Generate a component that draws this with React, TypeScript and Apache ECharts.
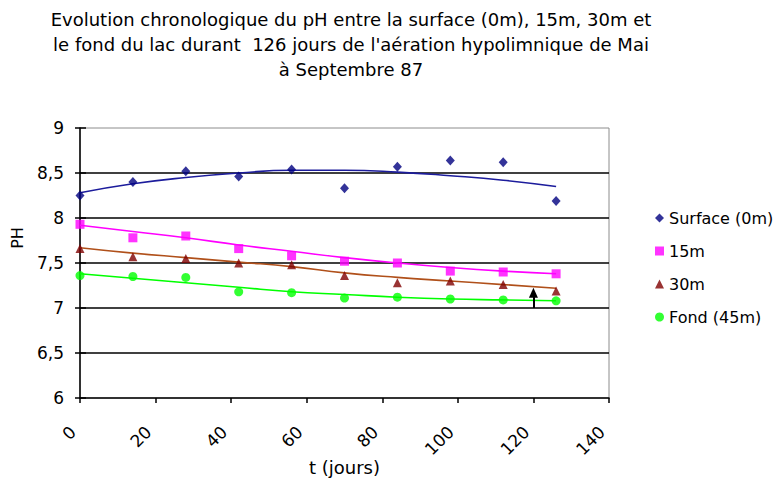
import React, { useEffect, useRef } from "react";
import * as echarts from "echarts";

const days = [0, 14, 28, 42, 56, 70, 84, 98, 112, 126];
const surface = [8.25, 8.4, 8.52, 8.46, 8.54, 8.33, 8.57, 8.64, 8.62, 8.19];
const m15 = [7.93, 7.78, 7.8, 7.66, 7.58, 7.52, 7.5, 7.41, 7.4, 7.38];
const m30 = [7.66, 7.57, 7.55, 7.5, 7.48, 7.36, 7.28, 7.3, 7.26, 7.19];
const fond = [7.36, 7.35, 7.34, 7.18, 7.17, 7.11, 7.12, 7.1, 7.09, 7.08];

// trendlines
const trendSurface = [8.28, 8.38, 8.45, 8.5, 8.53, 8.53, 8.51, 8.47, 8.42, 8.35];
const trend15 = [7.92, 7.85, 7.78, 7.7, 7.63, 7.56, 7.5, 7.45, 7.41, 7.38];
const trend30 = [7.67, 7.61, 7.56, 7.51, 7.46, 7.39, 7.34, 7.3, 7.26, 7.22];
const trendFond = [7.38, 7.33, 7.28, 7.23, 7.18, 7.15, 7.12, 7.1, 7.09, 7.08];

const arrowDay = 120;
const arrowFrom = 7.0;
const arrowTo = 7.17;

const seriesNames = ["Surface (0m)", "15m", "30m", "Fond (45m)"];
const titleLines = [
  "Evolution chronologique du pH entre la surface (0m), 15m, 30m et",
  "le fond du lac durant  126 jours de l'aération hypolimnique de Mai",
  "à Septembre 87",
];
const yName = "PH";
const xName = "t (jours)";

const FONT = "'DejaVu Sans', Verdana, sans-serif";

const pairs = (xs: number[], ys: number[]) => xs.map((x, i) => [x, ys[i]]);

export default function App() {
  const ref = useRef<HTMLDivElement>(null);
  useEffect(() => {
    if (!ref.current) return;
    const chart = echarts.init(ref.current, null, { renderer: "svg" });
    const trendStyle = (color: string) => ({
      type: "line",
      smooth: true,
      showSymbol: false,
      symbol: "none",
      silent: true,
      lineStyle: { color, width: 1.6 },
      z: 2,
    });
    chart.setOption({
      animation: false,
      backgroundColor: "#ffffff",
      textStyle: { fontFamily: FONT, color: "#000" },
      graphic: [
        {
          type: "text",
          x: 351,
          y: 7,
          style: {
            text: titleLines.join("\n"),
            align: "center",
            verticalAlign: "top",
            font: `18px ${FONT}`,
            lineHeight: 25,
            fill: "#000",
          },
        },
        {
          type: "text",
          x: 17,
          y: 238,
          rotation: Math.PI / 2,
          style: {
            text: yName,
            align: "center",
            verticalAlign: "middle",
            font: `16px ${FONT}`,
            fill: "#000",
          },
        },
      ],
      grid: {
        left: 80,
        top: 128,
        right: 171,
        bottom: 90,
        show: true,
        borderColor: "#8c8c8c",
        borderWidth: 1,
        outerBoundsMode: "none",
        containLabel: false,
      },
      legend: {
        orient: "vertical",
        left: 650,
        top: 205,
        itemWidth: 9,
        itemHeight: 9,
        itemGap: 17,
        data: seriesNames,
        textStyle: { fontFamily: FONT, fontSize: 16, color: "#000" },
      },
      xAxis: {
        type: "value",
        min: 0,
        max: 140,
        interval: 20,
        name: xName,
        nameLocation: "middle",
        nameGap: 60,
        nameMoveOverlap: false,
        nameTextStyle: { fontFamily: FONT, fontSize: 18, color: "#000" },
        axisLine: { show: true, lineStyle: { color: "#000", width: 1.5 } },
        axisTick: { show: true, length: 5, lineStyle: { color: "#000", width: 1.5 } },
        axisLabel: {
          rotate: 45,
          margin: 24,
          padding: [0, 10, 0, 0],
          fontSize: 17,
          color: "#000",
          fontFamily: FONT,
        },
        splitLine: { show: false },
      },
      yAxis: [
        {
          type: "value",
          min: 6,
          max: 9,
          interval: 0.5,
          axisLine: { show: true, lineStyle: { color: "#000", width: 1.5 } },
          axisTick: { show: true, length: 5, lineStyle: { color: "#000", width: 1.5 } },
          axisLabel: {
            margin: 16,
            fontSize: 17,
            color: "#000",
            fontFamily: FONT,
            formatter: (v: number) => String(v).replace(".", ","),
          },
          splitLine: {
            show: true,
            showMinLine: false,
            showMaxLine: false,
            lineStyle: { color: "#000", width: 1.5 },
          },
        },
        {
          type: "value",
          min: 6,
          max: 9,
          interval: 0.5,
          position: "left",
          axisLine: { show: false },
          axisTick: { show: true, inside: true, length: 6, lineStyle: { color: "#000", width: 1.5 } },
          axisLabel: { show: false },
          splitLine: { show: false },
        },
      ],
      series: [
        { name: "trend-surface", data: pairs(days, trendSurface), ...trendStyle("#1c1c9c") },
        { name: "trend-15", data: pairs(days, trend15), ...trendStyle("#ff00ff") },
        { name: "trend-30", data: pairs(days, trend30), ...trendStyle("#b0501a") },
        { name: "trend-fond", data: pairs(days, trendFond), ...trendStyle("#00ff00") },
        {
          name: seriesNames[0],
          type: "scatter",
          symbol: "diamond",
          symbolSize: [9, 10],
          itemStyle: { color: "#000080" },
          data: pairs(days, surface),
          z: 3,
        },
        {
          name: seriesNames[1],
          type: "scatter",
          symbol: "rect",
          symbolSize: 9,
          itemStyle: { color: "#ff00ff" },
          data: pairs(days, m15),
          z: 3,
        },
        {
          name: seriesNames[2],
          type: "scatter",
          symbol: "triangle",
          symbolSize: [9, 9],
          itemStyle: { color: "#800000" },
          data: pairs(days, m30),
          z: 3,
        },
        {
          name: seriesNames[3],
          type: "scatter",
          symbol: "circle",
          symbolSize: 9,
          itemStyle: { color: "#00ff00" },
          data: pairs(days, fond),
          z: 3,
          markLine: {
            silent: true,
            symbol: ["none", "triangle"],
            symbolSize: [9, 10],
            label: { show: false },
            lineStyle: { color: "#000", width: 2, type: "solid" },
            data: [[{ coord: [arrowDay, arrowFrom] }, { coord: [arrowDay, arrowTo] }]],
          },
        },
      ],
    });
    return () => chart.dispose();
  }, []);
  return (
    <div
      ref={ref}
      style={{ position: "fixed", left: 0, top: 0, width: 780, height: 488 }}
    />
  );
}
